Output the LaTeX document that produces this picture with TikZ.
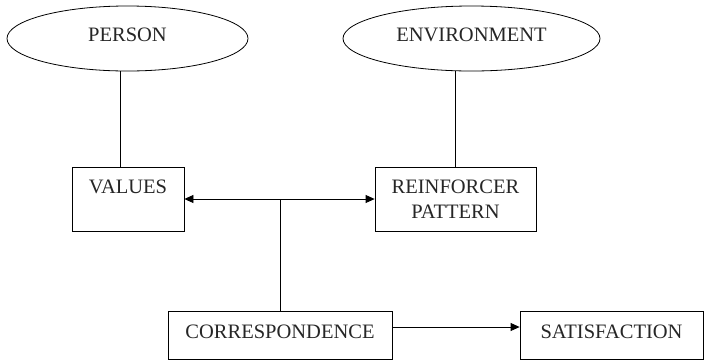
\documentclass[tikz,border=0pt]{standalone}
\usepackage{fontspec}
\setmainfont{Liberation Serif}
\usetikzlibrary{shapes.geometric,arrows.meta}
\begin{document}
\begin{tikzpicture}[x=1pt,y=-1pt,
  every node/.style={font=\fontsize{20.5}{25}\selectfont, text=black!85},
  oval/.style={draw, ellipse, line width=0.8pt, inner sep=0pt, text height=14pt, text depth=8pt},
  boxnode/.style={draw, rectangle, line width=0.8pt, inner sep=0pt, align=center},
  conn/.style={line width=0.8pt},
  tip/.style={-{Triangle[length=9pt,width=8pt]}},
  dtip/.style={{Triangle[length=9pt,width=8pt]}-{Triangle[length=9pt,width=8pt]}}]
\useasboundingbox (0,0) rectangle (704,360);
\node[oval, minimum width=241pt, minimum height=65pt] (P) at (127.5,38.5) {PERSON};
\node[oval, minimum width=257pt, minimum height=65pt] (E) at (471.5,38.5) {ENVIRONMENT};
\node[boxnode, minimum width=112pt, minimum height=64pt] (V) at (128,199) {VALUES\\ \mbox{}};
\node[boxnode, minimum width=161pt, minimum height=64pt] (R) at (455.5,199) {REINFORCER\\PATTERN};
\node[boxnode, minimum width=224pt, minimum height=48pt, text height=14pt, text depth=8pt] (C) at (280,335) {CORRESPONDENCE};
\node[boxnode, minimum width=183pt, minimum height=48pt, text height=14pt, text depth=8pt] (S) at (611.5,335) {SATISFACTION};
\draw[conn] ([xshift=-8pt]V.north) -- ([xshift=-8pt]V.north |- P.south);
\draw[conn] (R.north) -- (R.north |- E.south);
\draw[conn, dtip] (V.east) -- (R.west);
\draw[conn] (C.north) -- (C.north |- V.east);
\draw[conn, tip] ([yshift=8pt]C.east) -- ([yshift=8pt]C.east -| S.west);
\end{tikzpicture}
\end{document}
